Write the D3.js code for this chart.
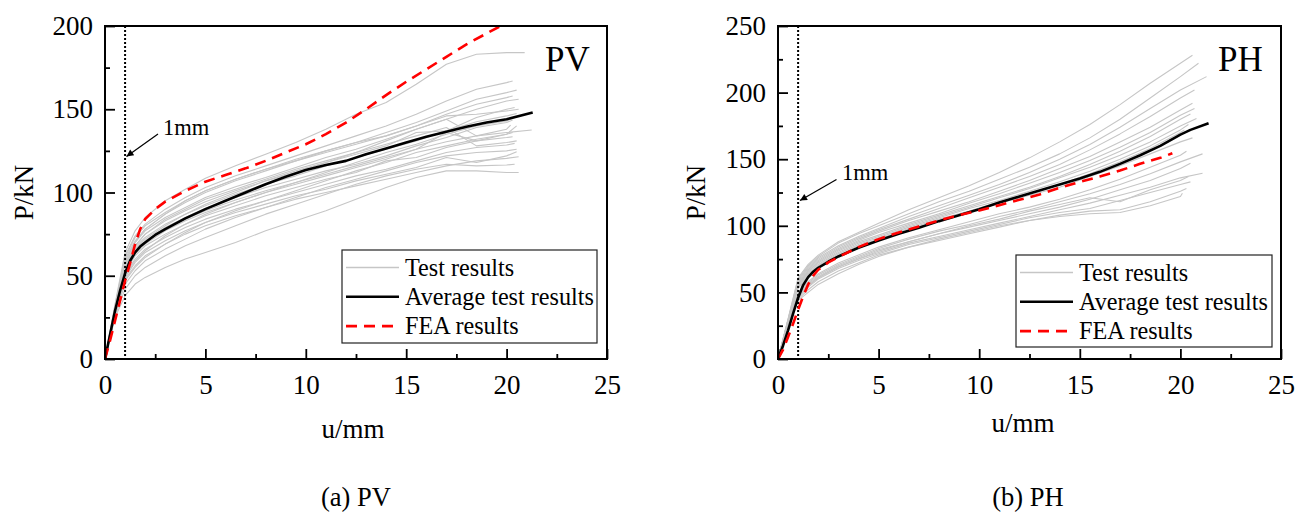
<!DOCTYPE html>
<html>
<head>
<meta charset="utf-8">
<script src="https://cdn.jsdelivr.net/npm/d3@7"></script>
<style>
  html, body { margin: 0; padding: 0; background: #fff; }
  svg { display: block; }
  svg text { font-family: "Liberation Serif", "Times New Roman", serif; }
</style>
</head>
<body>
<svg id="chart" width="1296" height="524" font-family="Liberation Serif, serif"></svg>
<script>
// Displacement grid (mm) shared by the individual test records
const gridU = [0, 0.5, 1, 1.5, 2, 3, 4, 5, 6.5, 8, 9.5, 11, 12.5, 14, 15.5, 17, 18.5, 20];

// PV specimens: load (kN) on gridU, last value = load at final displacement
const testPV = [
  [0,33,64,77,85,95,102,108.5,116,123,130,138,147,154,165,177,183,184, 184],
  [0,32,62,74,81,90,97,103,110,116,122,128,134,140,147,155,162,166, 167],
  [0,31,60,71,78,87,94,100,107,113,119,125,130,136,142,149,156,160, 161.5],
  [0,31,59,70,77,85,91,97,103.5,109,115,121,126,132,138,144,150,155, 156],
  [0,30,57,68,75,83,89,94.5,101,107,112,118,123,128,136,137,145,150, 151],
  [0,30,56,67,73,81,87,92,99,105,110,116,121,126,131,137,142.5,146, 147.5],
  [0,29,55,65,71,79,85,90.5,97,103,108,113,117,122,128,133,139,142, 143.5],
  [0,30,54,64,70,78,84,89,95.5,101,106,111,116,121,126,130.5,134,136, 137.5],
  [0,29,53,63,69,77,83,88,94,100,105,110,115,120,126,136,131,135, 140],
  [0,28,52,62,68,75,81,86,92,98,103,108,112,119,121,127,131,133, 133.5],
  [0,28,51,60,66,73,79,84,90,95,100,105,110,114,119,124,127,128.5, 129.5],
  [0,27,49,58,64,71,77,82,88,93,98,102,107,111,115,121,118,122, 124.5],
  [0,27,48,56,62,69,75,80,86,91,96,100,104,108,112,116,119,120.5, 121.5],
  [0,25,38,45,49,55,60,64,70,77,83,89,96,103,109,113,113,112, 112],
  [0,26,42,50,55,62,68,73,80,87,93,99,105,110,114,117,116,116.5, 117],
  [0,27,45,53,59,66,72,78,85,91,97,103,108,113,118,122,124,125, 126],
  [0,28,47,55,61,69,76,82,89,95,101,107,113,118,124,128,132,135, 136],
  [0,29,50,59,65,74,81,87,94,100,106,112,118,124,129,135,140,143, 145],
  [0,29,55,66,72,80,87,93,100,107,113,118,124,131,138,144,134,138, 140.5],
  [0,31,58,70,78,87,95,101,108,114,120,125,130,134,140,146,147,149, 150],
  [0,30,57,68,75,84,90,96,102,108,114,119,124,129,134,139,128,130, 131],
  [0,31,61,73,80,88,95,101,108,114,119,124,129,134,140,147,153,157, 158]
];
const testPVEndU = [20.9,20.3,20.5,20.6,20.4,20.5,20.3,21.25,20.5,20.3,20.4,20.5,20.6,20.6,20.4,20.5,20.3,20.4,20.2,20.6,20.5,20.3];

// PH specimens
const testPH = [
  [0,30,61,71,78,88,95,102,112,121,130,140,151,163,176,191,207,222, 228],
  [0,30,60,70,77,87,94,100,109,118,126,135,144,154,166,180,196,212, 222],
  [0,29,59,69,76,85,92,98,107,115,123,131,140,150,161,174,188,202, 212],
  [0,29,58,68,75,84,91,97,105,113,121,129,137,146,157,169,182,196, 202],
  [0,29,57,67,74,83,90,96,104,111,118,126,134,143,152,163,174,187, 192],
  [0,28,56,66,73,82,89,95,102,109,117,124,132,140,149,159,170,183, 188],
  [0,28,56,66,72,81,88,93,101,108,115,122,129,137,146,156,167,180, 184],
  [0,28,55,65,71,80,87,92,100,107,114,121,128,136,144,153,163,175, 180.5],
  [0,28,55,64,70,79,86,91,99,106,113,119,126,133,141,150,160,172, 176],
  [0,27,54,63,69,78,85,90,98,105,111,118,124,131,139,148,158,170, 172],
  [0,27,53,62,68,77,84,89,97,104,110,117,123,129,137,145,154,163, 166],
  [0,26,50,58,64,72,78,84,91,97,103,109,114,120,127,135,144,153, 156],
  [0,26,49,57,63,71,77,83,90,96,101,107,112,118,124,131,139,148, 154],
  [0,25,48,56,62,70,76,82,88,94,99,104,109,114,120,127,134,143, 147],
  [0,25,47,55,61,69,75,80,87,92,97,102,107,112,117,123,129,136, 139.5],
  [0,25,46,54,60,68,74,79,86,91,96,101,106,110,113,119,125,131, 133],
  [0,24,45,52,58,66,72,78,84,89,94,99,104,108,111,112,118,126, 128],
  [0,25,44,50,56,64,71,77,84,90,95,100,104,107,109,110,115,122, 124.5],
  [0,25,47,55,61,69,75,81,88,94,100,105,111,116,121,118,127,134, 137]
];
const testPHEndU = [20.6,20.9,21.3,20.7,20.6,20.7,20.5,20.8,20.4,20.2,20.6,20.3,21.1,20.5,21.1,20.5,20.3,20.1,20.4];

// Averaged test curves [u (mm), P (kN)]
const avgPV = [[0,0],[0.25,14.5],[0.5,29],[0.75,41],[1,51.5],[1.25,59],[1.5,64],[1.75,67.5],[2,70],[2.5,74.5],[3,78],[4,84.5],[5,90],[6,95],[7,100],[8,105],[9,109.5],[10,113.5],[11,116.5],[12,119],[13,123],[14,126.5],[15,130],[16,133.5],[17,136.5],[18,139.5],[19,142],[20,144],[21.3,148]];
const avgPH = [[0,0],[0.25,10],[0.5,21.5],[0.75,34],[1,46],[1.25,55.5],[1.5,61.5],[1.75,65.5],[2,68.5],[2.5,73],[3,77],[4,83.5],[5,89],[6,94],[7,98.5],[8,103.5],[9,108],[10,112.5],[11,117.5],[12,122],[13,126.5],[14,131],[15,135.5],[16,140.5],[17,146.5],[18,153],[19,160],[20,168.5],[20.5,172],[21.4,177]];

// Finite element predictions [u (mm), P (kN)]
const feaPV = [[0,0],[0.25,11],[0.5,23],[0.75,35],[1,47],[1.25,57.5],[1.5,69],[1.75,78],[2,84],[2.5,90],[3,94.5],[4,101],[5,106.5],[6,110.5],[7,114.5],[8,119],[9,124],[10,129],[11,135],[12,142],[13,150],[14,158.5],[15,166.5],[16,174],[17,181.5],[18,189],[19,195.5],[19.7,200]];
const feaPH = [[0,0],[0.25,7],[0.5,16.5],[0.75,26.5],[1,37],[1.25,47],[1.5,56],[1.75,62.5],[2,67],[2.5,72.5],[3,76.5],[4,84],[5,90],[6,95],[7,99.5],[8,104],[9,108],[10,111.5],[11,115.5],[12,119.5],[13,123.5],[14,128.5],[15,133],[16,137],[17,141.5],[18,146.5],[19,151],[19.6,154.5]];

// Axis ticks
const xTicks = [0, 5, 10, 15, 20, 25];
const xMinor = [2.5, 7.5, 12.5, 17.5, 22.5];
const yTicksPV = [0, 50, 100, 150, 200];
const yMinorPV = [25, 75, 125, 175];
const yTicksPH = [0, 50, 100, 150, 200, 250];
const yMinorPH = [25, 75, 125, 175, 225];

const legendLabels = ["Test results", "Average test results", "FEA results"];

const SERIF = '"Liberation Serif", "Times New Roman", serif';
const svg = d3.select("#chart");
svg.append("rect").attr("width", 1296).attr("height", 524).attr("fill", "#fff");

const defs = svg.append("defs");
defs.append("marker")
  .attr("id", "arrowHead")
  .attr("viewBox", "0 0 10 10")
  .attr("refX", 10).attr("refY", 5)
  .attr("markerWidth", 10).attr("markerHeight", 7)
  .attr("markerUnits", "userSpaceOnUse")
  .attr("orient", "auto")
  .append("path").attr("d", "M0,0 L10,5 L0,10 Z").attr("fill", "#000");

const GRAY = "#c6c6c6";
const RED = "#ff0000";

function addText(sel, x, y, size, str, anchor) {
  return sel.append("text")
    .attr("x", x).attr("y", y)
    .attr("text-anchor", anchor || "start")
    .attr("font-size", size)
    .style("font-family", SERIF)
    .attr("fill", "#000")
    .text(str);
}

function drawPanel(cfg) {
  const x = d3.scaleLinear().domain([0, 25]).range([cfg.left, cfg.right]);
  const y = d3.scaleLinear().domain([0, cfg.yMax]).range([cfg.bottom, cfg.top]);
  const g = svg.append("g");

  const clipId = "clip-" + cfg.name;
  defs.append("clipPath").attr("id", clipId)
    .append("rect")
    .attr("x", cfg.left).attr("y", cfg.top)
    .attr("width", cfg.right - cfg.left).attr("height", cfg.bottom - cfg.top);

  const line = d3.line().x(d => x(d[0])).y(d => y(d[1]));
  const plot = g.append("g").attr("clip-path", `url(#${clipId})`);

  // individual test records
  cfg.tests.forEach((row, i) => {
    const pts = gridU.map((u, k) => [u, row[k]]);
    pts.push([cfg.endU[i], row[row.length - 1]]);
    plot.append("path").attr("d", line(pts))
      .attr("fill", "none").attr("stroke", GRAY).attr("stroke-width", 1.1)
      .attr("stroke-linejoin", "round");
  });

  // 1 mm reference line
  plot.append("line")
    .attr("x1", x(1)).attr("x2", x(1))
    .attr("y1", cfg.top).attr("y2", cfg.bottom)
    .attr("stroke", "#000").attr("stroke-width", 2)
    .attr("stroke-dasharray", "2,2");

  // averaged curve
  plot.append("path").attr("d", line(cfg.avg))
    .attr("fill", "none").attr("stroke", "#000").attr("stroke-width", 2.6)
    .attr("stroke-linejoin", "round");

  // FEA curve
  plot.append("path").attr("d", line(cfg.fea))
    .attr("fill", "none").attr("stroke", RED).attr("stroke-width", 2.6)
    .attr("stroke-dasharray", "11,7");

  // axes with inward ticks
  const xAxis = d3.axisBottom(x).tickValues(xTicks).tickSize(-10).tickPadding(16).tickFormat(d3.format("d"));
  const xAxisMinor = d3.axisBottom(x).tickValues(xMinor).tickSize(-5).tickFormat("");
  const yAxis = d3.axisLeft(y).tickValues(cfg.yTicks).tickSize(-10).tickPadding(12).tickFormat(d3.format("d"));
  const yAxisMinor = d3.axisLeft(y).tickValues(cfg.yMinor).tickSize(-5).tickFormat("");

  [[xAxis, "x"], [xAxisMinor, "x"], [yAxis, "y"], [yAxisMinor, "y"]].forEach(([ax, dir]) => {
    const a = g.append("g")
      .attr("transform", dir === "x" ? `translate(0,${cfg.bottom})` : `translate(${cfg.left},0)`)
      .call(ax)
      .attr("font-family", null)
      .attr("font-size", null);
    a.select(".domain").remove();
    a.selectAll(".tick line").attr("stroke", "#000").attr("stroke-width", 1.8);
    a.selectAll(".tick text")
      .attr("fill", "#000")
      .style("font-family", SERIF)
      .style("font-size", "27px");
  });

  // frame
  g.append("rect")
    .attr("x", cfg.left).attr("y", cfg.top)
    .attr("width", cfg.right - cfg.left).attr("height", cfg.bottom - cfg.top)
    .attr("fill", "none").attr("stroke", "#000").attr("stroke-width", 2);

  // specimen tag
  addText(g, cfg.nameX, cfg.nameY, 35, cfg.name);

  // 1 mm annotation
  addText(g, cfg.mmX, cfg.mmY, 22.5, "1mm");
  g.append("line")
    .attr("x1", cfg.arrow[0][0]).attr("y1", cfg.arrow[0][1])
    .attr("x2", cfg.arrow[1][0]).attr("y2", cfg.arrow[1][1])
    .attr("stroke", "#000").attr("stroke-width", 1.2)
    .attr("marker-end", "url(#arrowHead)");

  // axis titles
  addText(g, 0, 0, 27, "P/kN", "middle")
    .attr("transform", `translate(${cfg.yTitleX},${(cfg.top + cfg.bottom) / 2}) rotate(-90)`);
  addText(g, cfg.xTitleX, cfg.xTitleY, 27, "u/mm", "middle");

  // legend
  const L = cfg.legend;
  const lg = g.append("g");
  lg.append("rect").attr("x", L.x).attr("y", L.y).attr("width", L.w).attr("height", L.h)
    .attr("fill", "#fff").attr("stroke", "#222").attr("stroke-width", 1.2);
  const styles = [
    { stroke: GRAY, width: 1.3, dash: null },
    { stroke: "#000", width: 2.6, dash: null },
    { stroke: RED, width: 2.6, dash: "11,7" }
  ];
  legendLabels.forEach((lab, i) => {
    const ly = L.y + 17.5 + i * 29.3;
    lg.append("line")
      .attr("x1", L.x + 4).attr("x2", L.x + 57)
      .attr("y1", ly).attr("y2", ly)
      .attr("stroke", styles[i].stroke).attr("stroke-width", styles[i].width)
      .attr("stroke-dasharray", styles[i].dash);
    addText(lg, L.x + 63, ly + 8, 24.2, lab);
  });

  // caption
  addText(svg, cfg.capX, 506, 26.5, cfg.caption, "middle");
}

drawPanel({
  name: "PV", left: 105, right: 607, top: 26, bottom: 359, yMax: 200,
  yTicks: yTicksPV, yMinor: yMinorPV,
  tests: testPV, endU: testPVEndU, avg: avgPV, fea: feaPV,
  nameX: 545, nameY: 71,
  mmX: 163, mmY: 135, arrow: [[158, 134], [126.5, 156.5]],
  yTitleX: 33, xTitleX: 353, xTitleY: 438,
  legend: { x: 342, y: 250, w: 255, h: 93 },
  caption: "(a) PV", capX: 356
});

drawPanel({
  name: "PH", left: 778, right: 1281, top: 26, bottom: 359, yMax: 250,
  yTicks: yTicksPH, yMinor: yMinorPH,
  tests: testPH, endU: testPHEndU, avg: avgPH, fea: feaPH,
  nameX: 1218, nameY: 71,
  mmX: 842, mmY: 180, arrow: [[836.5, 179.5], [800, 200.5]],
  yTitleX: 705, xTitleX: 1023, xTitleY: 432,
  legend: { x: 1016, y: 255, w: 256, h: 92 },
  caption: "(b) PH", capX: 1028
});
</script>
</body>
</html>
